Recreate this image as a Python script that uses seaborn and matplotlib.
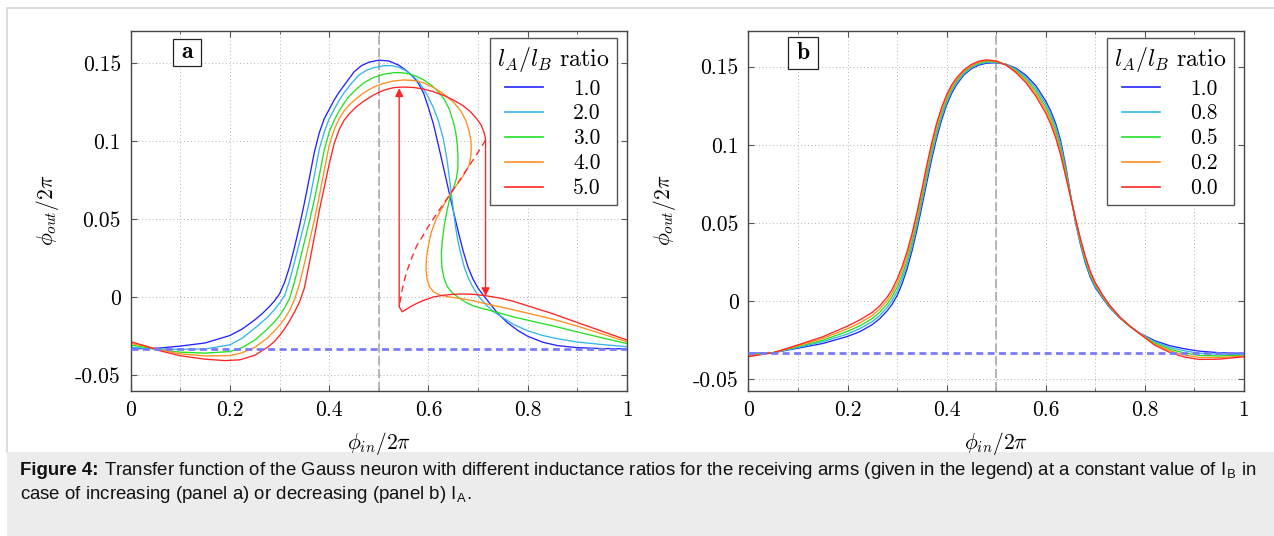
import matplotlib
matplotlib.use("Agg")
import matplotlib.pyplot as plt
import seaborn as sns
from matplotlib.ticker import FixedLocator, FixedFormatter, MultipleLocator
from matplotlib.patches import Rectangle
from matplotlib.lines import Line2D

# ---------------- data ----------------
x_ticks = [0, 0.2, 0.4, 0.6, 0.8, 1.0]
x_tick_labels = ["0", "0.2", "0.4", "0.6", "0.8", "1"]
y_ticks = [-0.05, 0, 0.05, 0.1, 0.15]
y_tick_labels = ["-0.05", "0", "0.05", "0.1", "0.15"]
baseline = -0.0333
center_x = 0.5

ratios_a = ["1.0", "2.0", "3.0", "4.0", "5.0"]
ratios_b = ["1.0", "0.8", "0.5", "0.2", "0.0"]
colors = ["#2424ff", "#35b6ea", "#24e024", "#ff8f1f", "#ff2424"]

# panel a: (phi_in, phi_out) points
a1 = [(0, -0.033), (0.03, -0.0329), (0.06, -0.0325), (0.1, -0.0313), (0.15, -0.0293),
      (0.2, -0.0245), (0.225, -0.0203), (0.25, -0.0145), (0.265, -0.0105), (0.28, -0.0058),
      (0.29, -0.0022), (0.3, 0.0022), (0.31, 0.0095), (0.32, 0.0195), (0.33, 0.032),
      (0.34, 0.0455), (0.35, 0.0605), (0.36, 0.0765), (0.37, 0.093), (0.38, 0.1055),
      (0.39, 0.1145), (0.40, 0.1205), (0.41, 0.1265), (0.42, 0.1315), (0.435, 0.138),
      (0.45, 0.1445), (0.465, 0.1485), (0.48, 0.1507), (0.5, 0.152), (0.52, 0.1515),
      (0.54, 0.1488), (0.555, 0.1455), (0.57, 0.141), (0.58, 0.137), (0.59, 0.131),
      (0.6, 0.1215), (0.61, 0.111), (0.62, 0.0975), (0.63, 0.0835), (0.64, 0.0695),
      (0.65, 0.0555), (0.66, 0.042), (0.67, 0.0295), (0.68, 0.019), (0.69, 0.0115),
      (0.7, 0.0058), (0.71, 0.0015), (0.72, -0.0025), (0.74, -0.0105), (0.76, -0.0165),
      (0.78, -0.0213), (0.8, -0.025), (0.83, -0.0288), (0.86, -0.031), (0.9, -0.0323),
      (0.95, -0.0329), (1.0, -0.033)]
a2 = [(0, -0.032), (0.03, -0.0328), (0.06, -0.0332), (0.1, -0.0334), (0.15, -0.0331),
      (0.2, -0.0305), (0.225, -0.0262), (0.25, -0.0198), (0.275, -0.013), (0.29, -0.0078),
      (0.3, -0.0037), (0.31, 0.001), (0.32, 0.0105), (0.33, 0.0225), (0.34, 0.035),
      (0.35, 0.0475), (0.36, 0.0615), (0.37, 0.078), (0.38, 0.095), (0.39, 0.106),
      (0.40, 0.1145), (0.41, 0.1205), (0.42, 0.1262), (0.43, 0.1312), (0.445, 0.1372),
      (0.46, 0.1425), (0.475, 0.1455), (0.49, 0.1472), (0.51, 0.1484), (0.525, 0.1485),
      (0.54, 0.1475), (0.555, 0.1452), (0.57, 0.1415), (0.58, 0.1382), (0.59, 0.1336),
      (0.6, 0.128), (0.61, 0.1215), (0.62, 0.113), (0.63, 0.1015), (0.637, 0.089),
      (0.642, 0.077), (0.646, 0.0667), (0.65, 0.056), (0.655, 0.044), (0.66, 0.035),
      (0.665, 0.028), (0.672, 0.0195), (0.68, 0.0125), (0.69, 0.0062), (0.7, 0.001),
      (0.715, -0.0045), (0.73, -0.009), (0.75, -0.013), (0.77, -0.0172), (0.8, -0.0215),
      (0.83, -0.0245), (0.86, -0.0266), (0.9, -0.0287), (0.95, -0.0303), (1.0, -0.0317)]
a3 = [(0, -0.0306), (0.03, -0.0322), (0.06, -0.0337), (0.1, -0.0352), (0.15, -0.0358),
      (0.2, -0.0348), (0.225, -0.0322), (0.25, -0.0275), (0.275, -0.0205), (0.29, -0.0155),
      (0.3, -0.0118), (0.31, -0.0068), (0.32, -0.0008), (0.33, 0.0098), (0.34, 0.0225),
      (0.35, 0.0355), (0.36, 0.0485), (0.37, 0.0625), (0.38, 0.078), (0.39, 0.0945),
      (0.40, 0.106), (0.41, 0.1135), (0.42, 0.1195), (0.43, 0.1245), (0.44, 0.1288),
      (0.455, 0.1335), (0.47, 0.1375), (0.49, 0.141), (0.51, 0.143), (0.53, 0.144),
      (0.545, 0.144), (0.56, 0.1433), (0.575, 0.1418), (0.59, 0.1394), (0.605, 0.1362),
      (0.62, 0.1318), (0.632, 0.1268), (0.642, 0.1205), (0.65, 0.1125), (0.655, 0.1055),
      (0.658, 0.098), (0.6595, 0.09), (0.659, 0.082), (0.656, 0.076), (0.651, 0.0705),
      (0.645, 0.0662), (0.638, 0.0565), (0.632, 0.0465), (0.628, 0.037), (0.626, 0.028),
      (0.627, 0.0195), (0.631, 0.0125), (0.638, 0.0068), (0.648, 0.0028), (0.66, 0.0),
      (0.675, -0.0032), (0.69, -0.0055), (0.71, -0.0073), (0.74, -0.0098), (0.77, -0.0125),
      (0.8, -0.0147), (0.85, -0.0183), (0.9, -0.0222), (0.95, -0.026), (1.0, -0.0297)]
a4 = [(0, -0.0295), (0.03, -0.0315), (0.06, -0.0337), (0.1, -0.0363), (0.15, -0.0376),
      (0.2, -0.0374), (0.225, -0.0355), (0.25, -0.0322), (0.275, -0.0262), (0.29, -0.0215),
      (0.3, -0.018), (0.31, -0.0138), (0.32, -0.0085), (0.33, -0.0015), (0.34, 0.0085),
      (0.35, 0.0215), (0.36, 0.0355), (0.37, 0.0495), (0.38, 0.065), (0.39, 0.0815),
      (0.40, 0.0975), (0.41, 0.1075), (0.42, 0.1145), (0.43, 0.1195), (0.44, 0.1232),
      (0.455, 0.1275), (0.47, 0.1312), (0.49, 0.1348), (0.51, 0.1372), (0.53, 0.1387),
      (0.55, 0.1393), (0.57, 0.139), (0.59, 0.1375), (0.61, 0.1345), (0.63, 0.1305),
      (0.65, 0.1252), (0.665, 0.1195), (0.675, 0.1135), (0.682, 0.1065), (0.686, 0.0995),
      (0.686, 0.092), (0.682, 0.0848), (0.675, 0.0805), (0.665, 0.0755), (0.655, 0.0712),
      (0.645, 0.0667), (0.63, 0.0588), (0.616, 0.0506), (0.606, 0.042), (0.6, 0.0335),
      (0.596, 0.0255), (0.595, 0.0185), (0.597, 0.0118), (0.602, 0.0068), (0.61, 0.0035),
      (0.622, 0.0015), (0.64, 0.0003), (0.665, -0.0008), (0.69, -0.0022), (0.72, -0.0045),
      (0.75, -0.0065), (0.8, -0.0102), (0.85, -0.014), (0.9, -0.0185), (0.95, -0.0235),
      (1.0, -0.0285)]
# ratio 5.0: stable upper branch, unstable (dashed) branch, stable lower branch
a5_upper = [(0, -0.0285), (0.03, -0.0312), (0.06, -0.0344), (0.1, -0.0375), (0.15, -0.0397),
            (0.19, -0.0406), (0.22, -0.0401), (0.25, -0.0372), (0.275, -0.0322),
            (0.29, -0.0283), (0.3, -0.0245), (0.31, -0.0203), (0.32, -0.0152), (0.33, -0.0095),
            (0.34, -0.0032), (0.35, 0.006), (0.36, 0.022), (0.37, 0.0385), (0.38, 0.0555),
            (0.39, 0.0705), (0.40, 0.0855), (0.41, 0.0985), (0.42, 0.1075), (0.43, 0.1135),
            (0.44, 0.1175), (0.455, 0.1222), (0.47, 0.1258), (0.49, 0.1298), (0.51, 0.1328),
            (0.53, 0.1344), (0.55, 0.1348), (0.57, 0.1345), (0.59, 0.1335), (0.61, 0.1318),
            (0.63, 0.1295), (0.65, 0.1265), (0.67, 0.1228), (0.685, 0.1188), (0.697, 0.1145),
            (0.706, 0.1105), (0.711, 0.1065), (0.714, 0.103), (0.715, 0.1008)]
a5_unstable = [(0.715, 0.1008), (0.705, 0.0955), (0.695, 0.0905), (0.683, 0.0848),
               (0.67, 0.0785), (0.657, 0.0723), (0.645, 0.0667), (0.63, 0.0598),
               (0.615, 0.0528), (0.6, 0.0455), (0.588, 0.039), (0.576, 0.0328),
               (0.566, 0.025), (0.558, 0.018), (0.551, 0.0105), (0.546, 0.003), (0.542, -0.004)]
a5_lower = [(0.541, -0.006), (0.547, -0.0093), (0.555, -0.0078), (0.565, -0.0058),
            (0.576, -0.004), (0.59, -0.002), (0.61, 0.0002), (0.63, 0.0013), (0.65, 0.0019),
            (0.67, 0.0021), (0.69, 0.0019), (0.715, 0.001), (0.744, -0.0005), (0.77, -0.0025),
            (0.8, -0.0055), (0.85, -0.0105), (0.9, -0.0162), (0.95, -0.0218), (1.0, -0.0274)]
jump_x = [0.541, 0.715]
jump_from = [-0.006, 0.1008]
jump_to = [0.134, 0.0008]

# panel b (shared x grid)
b_x = [0, 0.05, 0.1, 0.15, 0.2, 0.225, 0.25, 0.265, 0.28, 0.29, 0.3, 0.31, 0.32, 0.33, 0.34,
       0.35, 0.36, 0.37, 0.38, 0.39, 0.40, 0.41, 0.42, 0.435, 0.45, 0.465, 0.48, 0.5, 0.52,
       0.54, 0.56, 0.58, 0.6, 0.61, 0.62, 0.63, 0.64, 0.65, 0.66, 0.67, 0.68, 0.69, 0.7,
       0.715, 0.73, 0.75, 0.77, 0.79, 0.82, 0.85, 0.88, 0.91, 0.95, 1.0]
b1_y = [-0.0334, -0.0330, -0.0301, -0.0271, -0.0226, -0.0195, -0.0150, -0.0112, -0.0062,
        -0.0020, 0.0035, 0.0110, 0.0205, 0.0320, 0.0455, 0.0605, 0.0760, 0.0910, 0.1045,
        0.1160, 0.1255, 0.1328, 0.1385, 0.1447, 0.1487, 0.1510, 0.1522, 0.1525, 0.1515,
        0.1490, 0.1445, 0.1378, 0.1280, 0.1217, 0.1137, 0.1027, 0.0870, 0.0680, 0.0505,
        0.0362, 0.0243, 0.0152, 0.0087, 0.0017, -0.0045, -0.0110, -0.0163, -0.0206, -0.0253,
        -0.0285, -0.0305, -0.0320, -0.0330, -0.0334]
b2_y = [-0.0339, -0.0330, -0.0296, -0.0260, -0.0210, -0.0176, -0.0131, -0.0092, -0.0040,
        0.0004, 0.0061, 0.0138, 0.0233, 0.0348, 0.0483, 0.0633, 0.0788, 0.0936, 0.1069,
        0.1180, 0.1271, 0.1342, 0.1396, 0.1455, 0.1494, 0.1516, 0.1527, 0.1528, 0.1514,
        0.1483, 0.1433, 0.1362, 0.1261, 0.1196, 0.1114, 0.1004, 0.0853, 0.0676, 0.0511,
        0.0372, 0.0254, 0.0162, 0.0095, 0.0022, -0.0041, -0.0108, -0.0162, -0.0207, -0.0260,
        -0.0296, -0.0318, -0.0333, -0.0340, -0.0340]
b3_y = [-0.0345, -0.0330, -0.0291, -0.0250, -0.0193, -0.0158, -0.0111, -0.0071, -0.0019,
        0.0028, 0.0088, 0.0165, 0.0260, 0.0375, 0.0510, 0.0660, 0.0815, 0.0963, 0.1093,
        0.1200, 0.1288, 0.1355, 0.1407, 0.1464, 0.1501, 0.1523, 0.1533, 0.1531, 0.1513,
        0.1476, 0.1421, 0.1345, 0.1241, 0.1175, 0.1091, 0.0981, 0.0835, 0.0673, 0.0518,
        0.0381, 0.0264, 0.0171, 0.0103, 0.0028, -0.0038, -0.0107, -0.0162, -0.0208, -0.0268,
        -0.0307, -0.0332, -0.0347, -0.0351, -0.0345]
b4_y = [-0.0350, -0.0330, -0.0285, -0.0239, -0.0177, -0.0139, -0.0092, -0.0051, 0.0003,
        0.0051, 0.0114, 0.0193, 0.0288, 0.0403, 0.0538, 0.0688, 0.0843, 0.0989, 0.1116,
        0.1220, 0.1304, 0.1369, 0.1417, 0.1472, 0.1507, 0.1529, 0.1538, 0.1534, 0.1511,
        0.1469, 0.1409, 0.1329, 0.1222, 0.1153, 0.1068, 0.0958, 0.0818, 0.0669, 0.0524,
        0.0391, 0.0275, 0.0181, 0.0110, 0.0033, -0.0034, -0.0105, -0.0161, -0.0209, -0.0275,
        -0.0317, -0.0345, -0.0360, -0.0361, -0.0351]
b5_y = [-0.0355, -0.0330, -0.0280, -0.0228, -0.0160, -0.0120, -0.0072, -0.0030, 0.0025,
        0.0075, 0.0140, 0.0220, 0.0315, 0.0430, 0.0565, 0.0715, 0.0870, 0.1015, 0.1140,
        0.1240, 0.1320, 0.1382, 0.1428, 0.1480, 0.1514, 0.1535, 0.1543, 0.1537, 0.1510,
        0.1462, 0.1397, 0.1312, 0.1202, 0.1132, 0.1045, 0.0935, 0.0800, 0.0665, 0.0530,
        0.0400, 0.0285, 0.0190, 0.0118, 0.0038, -0.0030, -0.0103, -0.0160, -0.0210, -0.0282,
        -0.0328, -0.0358, -0.0373, -0.0371, -0.0356]

# ---------------- style ----------------
plt.rcParams.update({
    "font.family": "cmr10",
    "mathtext.fontset": "cm",
    "axes.unicode_minus": False,
})
FS = 15.5
W, H = 1274, 536
fig = plt.figure(figsize=(W / 100, H / 100), dpi=100)

# outer frame and caption background (below the axes)
fig.add_artist(Line2D([7 / W, 1], [1 - 8 / H, 1 - 8 / H], transform=fig.transFigure,
                      color="#d6d6d6", lw=1.2, zorder=-2))
fig.add_artist(Line2D([7 / W, 7 / W], [1 - 8 / H, 1 - 452 / H], transform=fig.transFigure,
                      color="#d6d6d6", lw=1.2, zorder=-2))
fig.add_artist(Rectangle((7 / W, 0), 1, 84 / H, transform=fig.transFigure,
                         fc="#ececec", ec="none", zorder=-2))

axA = fig.add_axes([130.7 / W, 1 - 390.7 / H, (627 - 130.7) / W, 360 / H])
axB = fig.add_axes([748.4 / W, 1 - 390.7 / H, (1244 - 748.4) / W, 360 / H])


def style(ax, ylim):
    ax.set_xlim(0, 1)
    ax.set_ylim(*ylim)
    ax.xaxis.set_major_locator(FixedLocator(x_ticks))
    ax.xaxis.set_major_formatter(FixedFormatter(x_tick_labels))
    ax.xaxis.set_minor_locator(MultipleLocator(0.1))
    ax.yaxis.set_major_locator(FixedLocator(y_ticks))
    ax.yaxis.set_major_formatter(FixedFormatter(y_tick_labels))
    ax.grid(which="both", axis="x", color="#b4b4b4", lw=0.7, ls=(0, (1, 2.6)))
    ax.grid(which="major", axis="y", color="#b4b4b4", lw=0.7, ls=(0, (1, 2.6)))
    ax.set_axisbelow(True)
    ax.tick_params(which="both", direction="in", top=True, right=True, colors="#555555",
                   labelcolor="black", labelsize=FS)
    ax.tick_params(which="major", length=4, width=0.8, pad=7)
    ax.tick_params(which="minor", length=2.5, width=0.6)
    for s in ax.spines.values():
        s.set_color("#444444")
        s.set_linewidth(1.0)
    ax.axvline(center_x, color="#a3a3a3", lw=1.1, ls=(0, (6, 2.4)), zorder=1.5)
    ax.axhline(baseline, color="#7a7aff", lw=2.0, ls=(0, (2.5, 1.6)), zorder=3)
    ax.set_xlabel(r"$\phi_{in}/2\pi$", fontsize=FS, labelpad=7.5)
    ax.set_ylabel(r"$\phi_{out}/2\pi$", fontsize=FS, labelpad=10.5)


style(axA, (-0.0599, 0.1709))
style(axB, (-0.0573, 0.173))

LW = 0.95


def draw(ax, pts, color, ls="-"):
    xs = [p[0] for p in pts]
    ys = [p[1] for p in pts]
    sns.lineplot(x=xs, y=ys, ax=ax, sort=False, estimator=None, color=color, lw=LW,
                 legend=False)
    line = ax.lines[-1]
    line.set_linestyle(ls)
    line.set_solid_joinstyle("round")
    return line


handles_a = [draw(axA, pts, c) for pts, c in zip([a1, a2, a3, a4], colors[:4])]
handles_a.append(draw(axA, a5_upper, colors[4]))
draw(axA, a5_unstable, colors[4], ls=(0, (5, 3.5)))
draw(axA, a5_lower, colors[4])
for jx, j0, j1 in zip(jump_x, jump_from, jump_to):
    axA.annotate("", xy=(jx, j1), xytext=(jx, j0),
                 arrowprops=dict(arrowstyle="-|>", color=colors[4], lw=LW, shrinkA=0,
                                 shrinkB=0, mutation_scale=12))

handles_b = []
for ys, c in zip([b1_y, b2_y, b3_y, b4_y, b5_y], colors):
    handles_b.append(draw(axB, list(zip(b_x, ys)), c))


def add_legend(ax, handles, labels):
    leg = ax.legend(handles, labels, title=r"$l_A/l_B$ ratio", loc="upper right",
                    bbox_to_anchor=(0.979, 0.981), borderaxespad=0, frameon=True,
                    fancybox=False, edgecolor="#555555", framealpha=1, fontsize=FS,
                    title_fontsize=17.2, handlelength=1.75, handletextpad=1.4,
                    labelspacing=0.25, borderpad=0.33)
    leg.get_frame().set_linewidth(1.0)
    for ln in leg.get_lines():
        ln.set_linewidth(1.2)
    return leg


add_legend(axA, handles_a, ratios_a)
add_legend(axB, handles_b, ratios_b)

# panel letters
for ax, letter, box in [(axA, "a", (0.0844, 0.9028, 0.0568, 0.0733)),
                        (axB, "b", (0.0807, 0.8936, 0.0603, 0.0881))]:
    ax.add_patch(Rectangle(box[:2], box[2], box[3], transform=ax.transAxes, fc="white",
                           ec="#222222", lw=0.9, zorder=5))
    ax.text(box[0] + box[2] / 2, box[1] + box[3] / 2, letter, transform=ax.transAxes,
            ha="center", va="center", fontsize=17, family="cmb10", zorder=6)

# caption
cap_kw = dict(family="Liberation Sans", va="baseline", ha="left", color="#111111")
line1_rest = (r"Transfer function of the Gauss neuron with different inductance ratios for the "
              r"receiving arms (given in the legend) at a constant value of "
              r"$\mathdefault{I}_{\mathdefault{B}}$ in")
line2 = (r"case of increasing (panel a) or decreasing (panel b) "
         r"$\mathdefault{I}_{\mathdefault{A}}$.")
renderer = fig.canvas.get_renderer()
x0, target = 20, 1257
size = 12.5
sp = 4
for _ in range(3):
    tb = fig.text(0, 0, "Figure 4:", fontsize=size, fontweight="bold", **cap_kw)
    tr = fig.text(0, 0, line1_rest, fontsize=size, **cap_kw)
    t_sp1 = fig.text(0, 0, "a a", fontsize=size, **cap_kw)
    t_sp2 = fig.text(0, 0, "aa", fontsize=size, **cap_kw)
    wb = tb.get_window_extent(renderer).width
    wr = tr.get_window_extent(renderer).width
    sp = t_sp1.get_window_extent(renderer).width - t_sp2.get_window_extent(renderer).width
    for t in (tb, tr, t_sp1, t_sp2):
        t.remove()
    size = size * (target - x0) / (wb + sp + wr)
tb = fig.text(x0 / W, 1 - 475 / H, "Figure 4:", fontsize=size, fontweight="bold", **cap_kw)
wb = tb.get_window_extent(renderer).width
fig.text((x0 + wb + sp) / W, 1 - 475 / H, line1_rest, fontsize=size, **cap_kw)
fig.text(x0 / W, 1 - 499 / H, line2, fontsize=size, **cap_kw)

fig.savefig("out.png", dpi=100)
